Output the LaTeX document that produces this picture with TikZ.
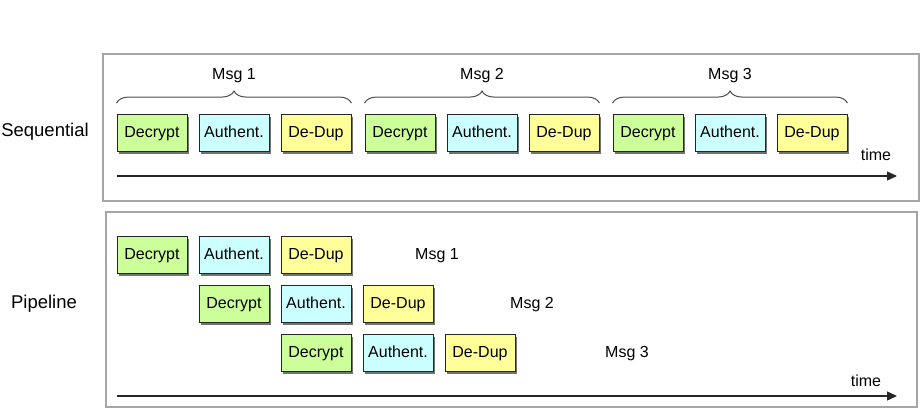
\documentclass[tikz,border=0pt]{standalone}
\usepackage{fontspec}
\setmainfont{Liberation Sans}
\usetikzlibrary{arrows.meta,decorations.pathreplacing,shadows}

\definecolor{decgreen}{HTML}{CCFF99}
\definecolor{authcyan}{HTML}{CCFFFF}
\definecolor{dupyellow}{HTML}{FFFF99}

\tikzset{
  stage/.style={draw=black!85, line width=0.9pt, minimum width=70pt,
    minimum height=37pt, inner sep=0pt, text height=11.5pt, text depth=3pt,
    font=\fontsize{16}{19}\selectfont,
    drop shadow={shadow xshift=2pt, shadow yshift=-2pt, fill=black!55, opacity=1}},
  decbox/.style={stage, fill=decgreen},
  authbox/.style={stage, fill=authcyan},
  dupbox/.style={stage, fill=dupyellow},
  frame/.style={draw=black!35, line width=1.2pt},
  msglabel/.style={font=\fontsize{16}{19}\selectfont, text height=11.5pt, text depth=3pt},
  sidelabel/.style={font=\fontsize{18.5}{22}\selectfont},
  msgbrace/.style={decorate, decoration={brace, amplitude=12pt}, line width=1pt, black!70},
  timeline/.style={-{Triangle[length=10pt,width=9pt]}, line width=1.3pt, black!85},
}

\begin{document}
\begin{tikzpicture}[x=1pt, y=-1pt]
    \useasboundingbox (0,0) rectangle (921,410);

    % Frames
    \draw[frame] (103,54) rectangle (919,201);
    \draw[frame] (106,212) rectangle (917,407);

    % Row labels
    \node[sidelabel] (seq) at (45,132) {Sequential};
    \node[sidelabel] (pipe) at (44,304) {Pipeline};

    % Sequential: one message after the other
    \foreach \g in {1,2,3} {
        \pgfmathsetmacro\xo{248*(\g-1)}
        \node[decbox] (sd\g) at (152+\xo,133) {Decrypt};
        \node[authbox] (sa\g) at (234+\xo,133) {Authent.};
        \node[dupbox] (sp\g) at (316+\xo,133) {De-Dup};
        \draw[msgbrace] ([yshift=11pt]sd\g.north west) -- ([yshift=11pt]sp\g.north east);
        \node[msglabel] (sm\g) at (234+\xo,75) {Msg \g};
    }

    % Pipeline: stages overlap
    \foreach \r in {1,2,3} {
        \pgfmathsetmacro\xo{82*(\r-1)}
        \pgfmathsetmacro\yo{49*(\r-1)}
        \node[decbox] (pd\r) at (152+\xo,255+\yo) {Decrypt};
        \node[authbox] (pa\r) at (234+\xo,255+\yo) {Authent.};
        \node[dupbox] (pp\r) at (316+\xo,255+\yo) {De-Dup};
        \node[msglabel] (pm\r) at (437+95*\r-95,255+\yo) {Msg \r};
    }

    % Time axes
    \coordinate (seqstart) at (117,176);
    \coordinate (seqend) at (897,176);
    \draw[timeline] (seqstart) -- (seqend);
    \node[msglabel] (seqtime) at (876,156) {time};

    \coordinate (pipestart) at (117,396);
    \coordinate (pipeend) at (897,396);
    \draw[timeline] (pipestart) -- (pipeend);
    \node[msglabel] (pipetime) at (866,382) {time};

\end{tikzpicture}
\end{document}
